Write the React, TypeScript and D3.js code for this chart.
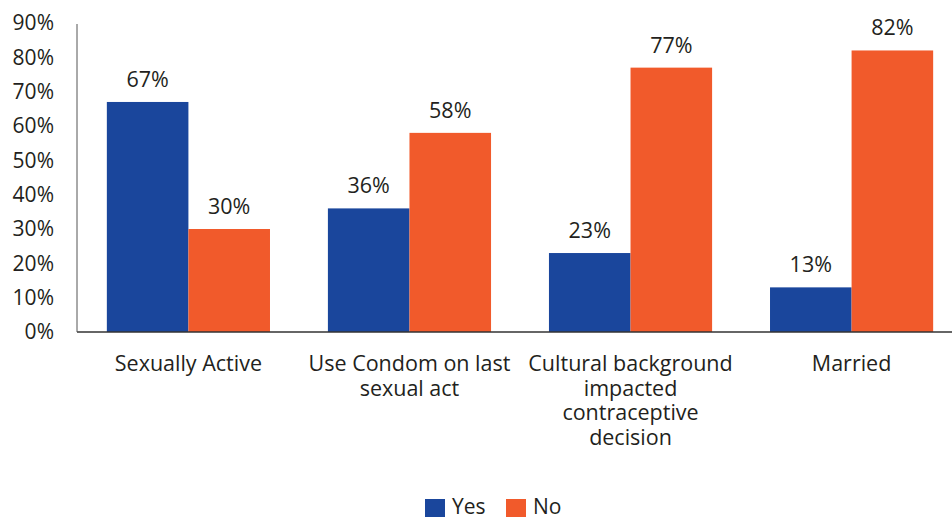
import React from "react";
import * as d3 from "d3";

const categories: string[][] = [
  ["Sexually Active"],
  ["Use Condom on last", "sexual act"],
  ["Cultural background", "impacted", "contraceptive", "decision"],
  ["Married"],
];
const yesValues = [67, 36, 23, 13];
const noValues = [30, 58, 77, 82];
const seriesNames = ["Yes", "No"];
const yTicks = [0, 10, 20, 30, 40, 50, 60, 70, 80, 90];

const W = 952;
const H = 517;
const BLUE = "#1a469c";
const ORANGE = "#f15a2b";
const TEXT = "#231f20";
const FONT = "'Open Sans', 'Noto Sans', sans-serif";

export default function App() {
  const left = 77;
  const right = 963;
  const top = 23;
  const bottom = 332;
  const x = d3.scaleBand<number>().domain(d3.range(categories.length)).range([left, right]).paddingInner(0.262).paddingOuter(0.135);
  const sub = d3.scaleBand<string>().domain(seriesNames).range([0, x.bandwidth()]);
  const y = d3.scaleLinear().domain([0, 90]).range([bottom, top]);
  const series = [yesValues, noValues];
  const colors = [BLUE, ORANGE];

  return (
    <svg width={W} height={H} style={{ position: "absolute", left: 0, top: 0, background: "#fff" }} fontFamily={FONT}>
      {yTicks.map((t) => (
        <text key={t} x={54} y={y(t)} dy="0.35em" textAnchor="end" fontSize={21} fill={TEXT}>
          {t}%
        </text>
      ))}
      {series.map((vals, si) =>
        vals.map((v, i) => {
          const bx = (x(i) as number) + (sub(seriesNames[si]) as number);
          const bw = sub.bandwidth();
          return (
            <g key={`${si}-${i}`}>
              <rect x={bx} y={y(v)} width={bw} height={bottom - y(v)} fill={colors[si]} />
              <text x={bx + bw / 2} y={y(v) - 15} textAnchor="middle" fontSize={21.5} fill={TEXT}>
                {v}%
              </text>
            </g>
          );
        })
      )}
      <line x1={left} x2={W} y1={bottom} y2={bottom} stroke="#333" strokeWidth={1.5} />
      <line x1={left} x2={left} y1={24} y2={bottom} stroke="#555" strokeWidth={1} />
      {categories.map((lines, i) => (
        <text key={i} textAnchor="middle" fontSize={21.5} fill={TEXT}>
          {lines.map((l, j) => (
            <tspan key={j} x={(x(i) as number) + x.bandwidth() / 2} y={371 + j * 24.5}>
              {l}
            </tspan>
          ))}
        </text>
      ))}
      <g>
        <rect x={425} y={499} width={20} height={20} fill={BLUE} />
        <text x={452} y={514} fontSize={21} fill={TEXT}>Yes</text>
        <rect x={506} y={499} width={20} height={20} fill={ORANGE} />
        <text x={533} y={514} fontSize={21} fill={TEXT}>No</text>
      </g>
    </svg>
  );
}
